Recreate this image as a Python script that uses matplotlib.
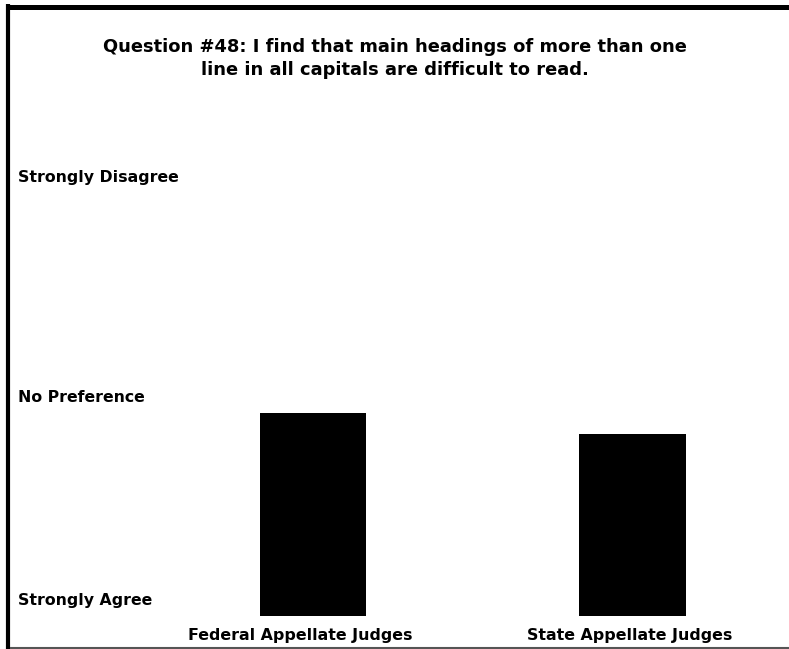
import matplotlib
matplotlib.use('Agg')
import matplotlib.pyplot as plt
from matplotlib.lines import Line2D

# survey scale: 1 = Strongly Agree, 3 = No Preference, 5 = Strongly Disagree
groups = ['Federal Appellate Judges', 'State Appellate Judges']
means = [3.0, 2.79]
scale_labels = ['Strongly Agree', 'No Preference', 'Strongly Disagree']
scale_label_pos = [1.15, 3.15, 5.32]

title = 'Question #48: I find that main headings of more than one\nline in all capitals are difficult to read.'

plt.rcParams['font.family'] = 'DejaVu Sans'

W, H = 789, 649
fig = plt.figure(figsize=(W / 100, H / 100), dpi=100)
ax = fig.add_axes([0, 0, 1, 1])

x = list(range(len(groups)))
ax.bar(x, [m - 1 for m in means], bottom=1, width=0.333, color='black')

ax.set_xlim(-0.98, 1.49)
ax.set_ylim(0.675, 7.07)
ax.axis('off')

for lab, pos in zip(scale_labels, scale_label_pos):
    ax.text(-0.923, pos, lab, fontsize=11.3, fontweight='bold', ha='left', va='center')

for xi, g in zip(x, groups):
    ax.text(xi - 0.04 + 0.03 * xi, 0.81, g, fontsize=11.4, fontweight='bold', ha='center', va='center')

fig.text(0.5, 1 - 58.5 / H, title, fontsize=12.9, fontweight='bold', ha='center', va='center',
         linespacing=1.42)

# frame: thick black top and left, thin grey bottom, open on the right
fig.add_artist(Line2D([6 / W, 1], [1 - 6.5 / H] * 2, color='black', lw=3.6,
                      solid_capstyle='butt', transform=fig.transFigure))
fig.add_artist(Line2D([8 / W] * 2, [0, 1 - 4 / H], color='black', lw=3,
                      solid_capstyle='butt', transform=fig.transFigure))
fig.add_artist(Line2D([10 / W, 1], [1.2 / H] * 2, color='#555555', lw=1.5,
                      solid_capstyle='butt', transform=fig.transFigure))

fig.savefig('out.png', dpi=100)
